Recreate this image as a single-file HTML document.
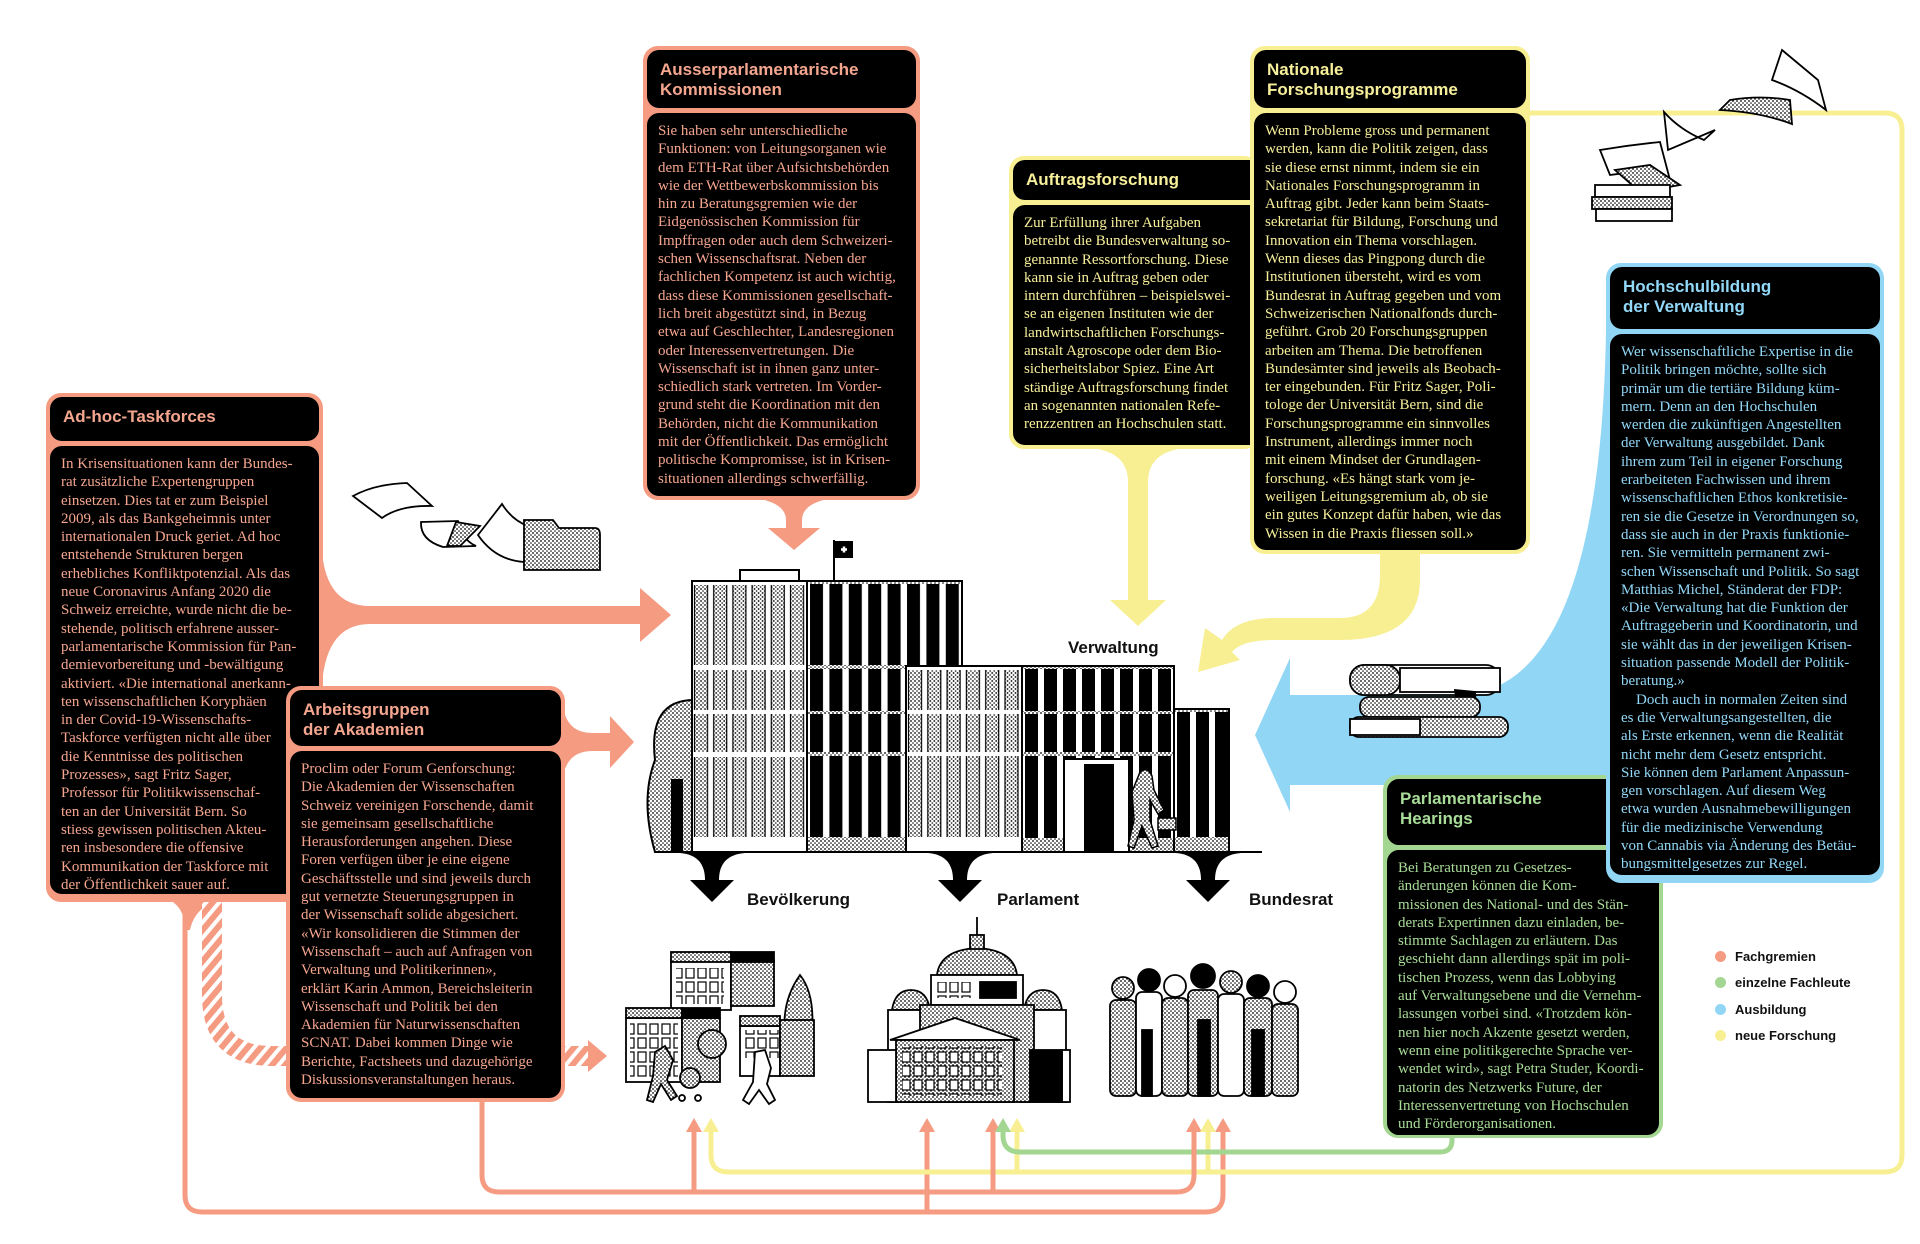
<!DOCTYPE html>
<html><head><meta charset="utf-8">
<style>
*{margin:0;padding:0;box-sizing:border-box}
body{width:1920px;height:1244px;background:#fff;position:relative;overflow:hidden;font-family:"Liberation Serif",serif}
svg.bg{position:absolute;left:0;top:0}
.box{position:absolute;border-radius:15px;padding:4px}
.hd{background:#000;border-radius:12px;font-family:"Liberation Sans",sans-serif;font-weight:bold;font-size:17px;line-height:20px;padding:10px 13px 0 13px}
.bd{background:#000;border-radius:12px;margin-top:5px;font-size:15px;line-height:18.3px;padding:9px 11px 0 11px;white-space:nowrap;overflow:hidden}
.s{background:#f59b82}.s .hd,.s .bd{color:#f5a68f}
.y{background:#f7ef92}.y .hd,.y .bd{color:#f7ef9a}
.b{background:#92d6f6}.b .hd,.b .bd{color:#92d8f8}
.g{background:#a3d690}.g .hd,.g .bd{color:#a9dc98}
.lbl{position:absolute;font-family:"Liberation Sans",sans-serif;font-weight:bold;font-size:17px;color:#111}
.leg{position:absolute;left:1715px;font-family:"Liberation Sans",sans-serif;font-weight:bold;font-size:13px;color:#111}
.leg i{display:inline-block;width:11px;height:11px;border-radius:50%;margin-right:9px;vertical-align:-1px}
</style></head><body>
<svg class="bg" width="1920" height="1244" viewBox="0 0 1920 1244">
<defs>
<pattern id="st" width="4" height="4" patternUnits="userSpaceOnUse"><rect width="4" height="4" fill="#fff"/><circle cx="1" cy="1" r="0.9" fill="#000"/><circle cx="3" cy="3" r="0.8" fill="#000"/></pattern>
<pattern id="hatch" width="10" height="10" patternUnits="userSpaceOnUse" patternTransform="rotate(40)"><rect width="10" height="10" fill="#fff"/><rect width="6" height="10" fill="#f59b82"/></pattern>
<pattern id="wst" x="692" y="0" width="19.2" height="2000" patternUnits="userSpaceOnUse"><rect x="2.5" y="0" width="13" height="2000" fill="url(#st)" stroke="#000" stroke-width="1.2"/></pattern>
<pattern id="wst3" x="906" y="0" width="19.3" height="2000" patternUnits="userSpaceOnUse"><rect x="2.5" y="0" width="13" height="2000" fill="url(#st)" stroke="#000" stroke-width="1.2"/></pattern>
<pattern id="wbk" x="807" y="0" width="19.4" height="2000" patternUnits="userSpaceOnUse"><rect x="3" y="0" width="13" height="2000" fill="#000"/></pattern>
<pattern id="wbk4" x="1022" y="0" width="19" height="2000" patternUnits="userSpaceOnUse"><rect x="3" y="0" width="13" height="2000" fill="#000"/></pattern>
<pattern id="hw" width="12" height="14" patternUnits="userSpaceOnUse"><rect x="2" y="2" width="8" height="10" fill="#fff" stroke="#000" stroke-width="1.2"/></pattern>
</defs>
<g fill="#f59b82">
<path d="M323,560 Q330,606 370,606 L640,606 L640,588 L671,615 L640,642 L640,624 L370,624 Q330,624 323,675 Z"/>
<path d="M564,712 Q570,733 592,733 L610,733 L610,716 L634,742 L610,768 L610,751 L592,751 Q570,751 564,772 Z"/>
<path d="M755,498 Q786,503 786,520 L786,528 L768,528 L794,550 L820,528 L802,528 L802,520 Q802,503 833,498 Z"/>
<path d="M165,898 Q185,905 185,930 L190,930 Q195,905 225,898 Z"/>
</g>
<path d="M212,902 L212,995 Q212,1056 272,1056 L588,1056" fill="none" stroke="url(#hatch)" stroke-width="20"/>
<path d="M588,1040 L607,1056 L588,1072 Z" fill="#f59b82"/>
<g fill="none" stroke-width="5" stroke-linecap="round">
<path d="M185,902 L185,1195 Q185,1212 202,1212 L1206,1212 Q1223,1212 1223,1195 L1223,1130 M927,1212 Q927,1200 927,1130" stroke="#f59b82"/>
<path d="M1902,130 L1902,1155 Q1902,1172 1885,1172 L728,1172 Q711,1172 711,1155 L711,1130 M1017,1172 L1017,1130 M1208,1172 L1208,1130 M1529,113 L1885,113 Q1902,113 1902,130" stroke="#f7ef92"/>
<path d="M1452,1138 L1452,1140 Q1452,1152 1440,1152 L1020,1152 Q1003,1152 1003,1135 L1003,1130" stroke="#a3d690"/>
<path d="M482,1100 L482,1175 Q482,1192 499,1192 L1177,1192 Q1194,1192 1194,1175 L1194,1130 M694,1192 L694,1130 M993,1192 L993,1130" stroke="#f59b82"/>
</g>
<g fill="#f59b82"><path d="M686,1132 L694,1118 L702,1132Z M919,1132 L927,1118 L935,1132Z M985,1132 L993,1118 L1001,1132Z M1186,1132 L1194,1118 L1202,1132Z M1215,1132 L1223,1118 L1231,1132Z"/></g>
<g fill="#f7ef92"><path d="M703,1132 L711,1118 L719,1132Z M1009,1132 L1017,1118 L1025,1132Z M1200,1132 L1208,1118 L1216,1132Z"/></g>
<path d="M995,1132 L1003,1118 L1011,1132Z" fill="#a3d690"/>
<g fill="#f7ef92">
<path d="M1098,449 Q1128,455 1128,482 L1128,600 L1110,600 L1138,626 L1166,600 L1148,600 L1148,482 Q1148,455 1178,449 Z"/>
<path d="M1380,554 L1380,575 Q1380,618 1340,618 L1275,618 Q1235,618 1222,640 L1205,628 L1198,672 L1240,660 L1232,652 Q1242,640 1275,640 L1340,640 Q1420,640 1420,580 L1420,554 Z"/>
</g>
<path d="M1290,695 L1460,695 Q1600,690 1606,330 L1640,330 L1640,785 L1290,785 L1290,812 L1255,735 L1290,658 Z" fill="#92d6f6"/>
<g stroke="#000" stroke-width="2">
<path d="M655,852 Q640,800 655,760 Q648,700 694,700 L694,852 Z" fill="url(#st)"/>
<rect x="672" y="780" width="10" height="72" fill="#000"/>
<rect x="740" y="570" width="59" height="11" fill="#fff"/>
<rect x="692" y="581" width="115" height="271" fill="#fff"/>
<rect x="807" y="581" width="155" height="271" fill="url(#st)"/>
<rect x="906" y="666" width="116" height="186" fill="#fff"/>
<rect x="1022" y="666" width="152" height="186" fill="url(#st)"/>
<rect x="1174" y="709" width="55" height="143" fill="url(#st)"/>
</g>
<g>
<rect x="692" y="585" width="115" height="80" fill="url(#wst)"/>
<rect x="692" y="670" width="115" height="40" fill="url(#wst)"/>
<rect x="692" y="714" width="115" height="38" fill="url(#wst)"/>
<rect x="692" y="757" width="115" height="80" fill="url(#wst)"/>
<rect x="808" y="584" width="153" height="81" fill="#fff"/><rect x="808" y="584" width="153" height="81" fill="url(#wbk)"/>
<rect x="808" y="669" width="97" height="42" fill="#fff"/><rect x="808" y="669" width="97" height="42" fill="url(#wbk)"/>
<rect x="808" y="714" width="97" height="38" fill="#fff"/><rect x="808" y="714" width="97" height="38" fill="url(#wbk)"/>
<rect x="808" y="756" width="97" height="81" fill="#fff"/><rect x="808" y="756" width="97" height="81" fill="url(#wbk)"/>
<rect x="906" y="670" width="116" height="40" fill="url(#wst3)"/>
<rect x="906" y="714" width="116" height="38" fill="url(#wst3)"/>
<rect x="906" y="756" width="116" height="81" fill="url(#wst3)"/>
<rect x="1023" y="669" width="150" height="42" fill="#fff"/><rect x="1023" y="669" width="150" height="42" fill="url(#wbk4)"/>
<rect x="1023" y="714" width="150" height="38" fill="#fff"/><rect x="1023" y="714" width="150" height="38" fill="url(#wbk4)"/>
<rect x="1023" y="756" width="150" height="82" fill="#fff"/><rect x="1023" y="756" width="150" height="82" fill="url(#wbk4)"/>
<rect x="1175" y="712" width="53" height="125" fill="#fff"/><rect x="1175" y="712" width="53" height="125" fill="url(#wbk4)"/>
<rect x="1064" y="759" width="65" height="93" fill="#fff" stroke="#000" stroke-width="2"/>
<rect x="1084" y="764" width="30" height="88" fill="#000"/>
<path d="M1140,772 q8,-6 12,4 l2,14 l10,20 l-6,4 l-8,-14 l0,20 l8,26 l-6,2 l-10,-22 l-8,22 l-6,-2 l6,-26 l-2,-28 z" fill="url(#st)" stroke="#000" stroke-width="1.5"/>
<rect x="1158" y="818" width="18" height="12" fill="url(#st)" stroke="#000" stroke-width="1.5"/>
<line x1="834" y1="540" x2="834" y2="581" stroke="#000" stroke-width="2"/>
<rect x="835" y="541" width="18" height="17" fill="#000"/>
<path d="M841,549.5 h6 M844,546.5 v6" stroke="#fff" stroke-width="2.5"/>
</g>
<line x1="661" y1="852" x2="1262" y2="852" stroke="#000" stroke-width="2"/>
<g fill="#000">
<path d="M680,853 Q705,855 705,880 L690,880 L712,902 L734,880 L719,880 Q719,855 745,853 Z"/>
<path d="M928,853 Q953,855 953,880 L938,880 L960,902 L982,880 L967,880 Q967,855 993,853 Z"/>
<path d="M1176,853 Q1201,855 1201,880 L1186,880 L1208,902 L1230,880 L1215,880 Q1215,855 1241,853 Z"/>
</g>
<g stroke="#000" stroke-width="1.8">
<path d="M790,1060 Q775,1010 800,975 Q820,1000 808,1060 Z" fill="url(#st)"/>
<path d="M671,960 L731,960 L731,1010 L671,1010 Z" fill="#fff"/><rect x="671" y="952" width="60" height="10" fill="url(#st)"/>
<rect x="731" y="960" width="43" height="46" fill="url(#st)"/><rect x="731" y="952" width="43" height="10" fill="#000"/>
<rect x="676" y="968" width="48" height="36" fill="url(#hw)" stroke="none"/>
<rect x="626" y="1018" width="56" height="64" fill="#fff"/><rect x="626" y="1008" width="56" height="10" fill="url(#st)"/>
<rect x="630" y="1022" width="48" height="56" fill="url(#hw)" stroke="none"/>
<rect x="682" y="1018" width="38" height="64" fill="url(#st)"/><rect x="682" y="1008" width="38" height="10" fill="#000"/>
<rect x="740" y="1026" width="40" height="50" fill="#fff"/><rect x="740" y="1016" width="40" height="10" fill="url(#st)"/>
<rect x="744" y="1030" width="36" height="28" fill="url(#hw)" stroke="none"/>
<rect x="780" y="1020" width="34" height="56" fill="url(#st)"/>
<circle cx="712" cy="1044" r="14" fill="url(#st)"/>
<path d="M655,1052 l10,-6 l8,14 l-6,20 l10,16 l-6,4 l-10,-16 l-8,18 l-6,-2 l6,-24 z" fill="url(#st)"/>
<circle cx="690" cy="1078" r="10" fill="url(#st)"/>
<circle cx="682" cy="1098" r="3" fill="#fff"/><circle cx="698" cy="1098" r="3" fill="#fff"/>
<path d="M755,1052 l10,-2 l6,18 l-4,16 l8,16 l-6,4 l-10,-14 l-10,14 l-6,-4 l10,-18 z" fill="#fff"/>
</g>
<g stroke="#000" stroke-width="1.8">
<line x1="977" y1="917" x2="977" y2="935"/>
<path d="M937,975 Q940,950 977,948 Q1014,950 1017,975 Z" fill="url(#st)"/>
<rect x="970" y="935" width="14" height="14" fill="url(#st)"/>
<rect x="931" y="975" width="92" height="30" fill="#fff"/>
<rect x="936" y="982" width="36" height="16" fill="url(#hw)" stroke="none"/>
<rect x="980" y="982" width="36" height="16" fill="#000"/>
<path d="M892,1010 Q895,990 911,990 Q927,990 930,1010 Z M1024,1010 Q1027,990 1043,990 Q1059,990 1062,1010 Z" fill="url(#st)"/>
<rect x="888" y="1010" width="46" height="92" fill="#fff"/>
<rect x="1020" y="1010" width="46" height="92" fill="#fff"/>
<rect x="920" y="1005" width="114" height="97" fill="url(#st)"/>
<path d="M890,1040 L955,1018 L1020,1040 Z" fill="#fff"/>
<rect x="896" y="1040" width="118" height="62" fill="url(#st)"/>
<rect x="902" y="1046" width="100" height="50" fill="url(#hw)" stroke="none"/>
<rect x="868" y="1050" width="28" height="52" fill="#fff"/><rect x="1062" y="1050" width="8" height="52" fill="#fff"/>
<rect x="1030" y="1050" width="32" height="52" fill="#000"/>
</g>
<g stroke="#000" stroke-width="1.8">
<g fill="url(#st)">
<rect x="1110" y="1000" width="26" height="96" rx="6"/><rect x="1136" y="992" width="26" height="104" rx="6" fill="#fff"/>
<rect x="1162" y="998" width="26" height="98" rx="6"/><rect x="1188" y="990" width="30" height="106" rx="6"/>
<rect x="1218" y="994" width="26" height="102" rx="6" fill="#fff"/><rect x="1244" y="998" width="28" height="98" rx="6"/>
<rect x="1272" y="1004" width="26" height="92" rx="6"/>
</g>
<rect x="1198" y="1020" width="12" height="76" fill="#000"/><rect x="1252" y="1030" width="12" height="66" fill="#000"/><rect x="1142" y="1030" width="10" height="66" fill="#000"/>
<circle cx="1123" cy="988" r="11" fill="url(#st)"/><circle cx="1149" cy="980" r="11" fill="#000"/>
<circle cx="1175" cy="986" r="11" fill="#fff"/><circle cx="1203" cy="976" r="12" fill="#000"/>
<circle cx="1231" cy="982" r="11" fill="url(#st)"/><circle cx="1258" cy="986" r="11" fill="#000"/>
<circle cx="1285" cy="992" r="11" fill="#fff"/>
</g>
<g stroke="#000" stroke-width="1.8" fill="#fff">
<path d="M353,496 Q375,484 407,483 L432,506 Q400,505 382,518 Z"/>
<path d="M421,522 L458,521 Q462,540 476,546 L443,547 Q420,540 421,522 Z"/>
<path d="M456,522 L480,526 L460,546 L447,546 Z" fill="url(#st)"/>
<path d="M478,535 L502,504 Q512,520 528,526 L524,562 Q495,560 478,535 Z"/>
<path d="M524,520 L553,520 L559,528 L595,528 Q600,528 600,535 L600,570 L524,570 Z" fill="url(#st)"/>
<path d="M1782,50 L1818,80 L1826,110 Q1800,90 1772,80 Z"/>
<path d="M1730,100 Q1760,95 1790,100 L1792,124 Q1760,112 1720,110 Z" fill="url(#st)"/>
<path d="M1664,112 Q1680,130 1704,140 L1715,130 L1668,150 Z"/>
<path d="M1600,150 Q1630,145 1660,142 L1670,180 Q1640,170 1610,175 Z"/>
<path d="M1615,170 L1650,165 L1680,185 L1640,192 Z" fill="url(#st)"/>
<rect x="1595" y="185" width="75" height="12"/><rect x="1592" y="197" width="80" height="12" fill="url(#st)"/><rect x="1596" y="209" width="76" height="12"/>
<rect x="1350" y="665" width="150" height="30" rx="14"/>
<rect x="1350" y="665" width="50" height="30" rx="14" fill="url(#st)"/>
<rect x="1400" y="668" width="100" height="24" fill="#fff"/>
<path d="M1455,690 L1458,712 L1467,702 L1476,712 L1475,692 Z" fill="#000"/>
<rect x="1360" y="697" width="120" height="20" rx="9" fill="url(#st)"/>
<rect x="1350" y="717" width="158" height="20" rx="9" fill="url(#st)"/>
<rect x="1350" y="719" width="70" height="16" fill="#fff"/>
</g>
</svg>

<div class="box s" style="left:643px;top:46px;width:277px;height:454px">
<div class="hd" style="height:58px">Ausserparlamentarische<br>Kommissionen</div>
<div class="bd" style="height:383px">Sie haben sehr unterschiedliche<br>Funktionen: von Leitungsorganen wie<br>dem ETH-Rat über Aufsichtsbehörden<br>wie der Wettbewerbskommission bis<br>hin zu Beratungsgremien wie der<br>Eidgenössischen Kommission für<br>Impffragen oder auch dem Schweizeri-<br>schen Wissenschaftsrat. Neben der<br>fachlichen Kompetenz ist auch wichtig,<br>dass diese Kommissionen gesellschaft-<br>lich breit abgestützt sind, in Bezug<br>etwa auf Geschlechter, Landesregionen<br>oder Interessenvertretungen. Die<br>Wissenschaft ist in ihnen ganz unter-<br>schiedlich stark vertreten. Im Vorder-<br>grund steht die Koordination mit den<br>Behörden, nicht die Kommunikation<br>mit der Öffentlichkeit. Das ermöglicht<br>politische Kompromisse, ist in Krisen-<br>situationen allerdings schwerfällig.</div>
</div>

<div class="box s" style="left:46px;top:393px;width:277px;height:509px">
<div class="hd" style="height:44px">Ad-hoc-Taskforces</div>
<div class="bd" style="height:448px">In Krisensituationen kann der Bundes-<br>rat zusätzliche Expertengruppen<br>einsetzen. Dies tat er zum Beispiel<br>2009, als das Bankgeheimnis unter<br>internationalen Druck geriet. Ad hoc<br>entstehende Strukturen bergen<br>erhebliches Konfliktpotenzial. Als das<br>neue Coronavirus Anfang 2020 die<br>Schweiz erreichte, wurde nicht die be-<br>stehende, politisch erfahrene ausser-<br>parlamentarische Kommission für Pan-<br>demievorbereitung und -bewältigung<br>aktiviert. «Die international anerkann-<br>ten wissenschaftlichen Koryphäen<br>in der Covid-19-Wissenschafts-<br>Taskforce verfügten nicht alle über<br>die Kenntnisse des politischen<br>Prozesses», sagt Fritz Sager,<br>Professor für Politikwissenschaf-<br>ten an der Universität Bern. So<br>stiess gewissen politischen Akteu-<br>ren insbesondere die offensive<br>Kommunikation der Taskforce mit<br>der Öffentlichkeit sauer auf.</div>
</div>

<div class="box s" style="left:286px;top:686px;width:279px;height:416px">
<div class="hd" style="height:56px">Arbeitsgruppen<br>der Akademien</div>
<div class="bd" style="height:347px">Proclim oder Forum Genforschung:<br>Die Akademien der Wissenschaften<br>Schweiz vereinigen Forschende, damit<br>sie gemeinsam gesellschaftliche<br>Herausforderungen angehen. Diese<br>Foren verfügen über je eine eigene<br>Geschäftsstelle und sind jeweils durch<br>gut vernetzte Steuerungsgruppen in<br>der Wissenschaft solide abgesichert.<br>«Wir konsolidieren die Stimmen der<br>Wissenschaft – auch auf Anfragen von<br>Verwaltung und Politikerinnen»,<br>erklärt Karin Ammon, Bereichsleiterin<br>Wissenschaft und Politik bei den<br>Akademien für Naturwissenschaften<br>SCNAT. Dabei kommen Dinge wie<br>Berichte, Factsheets und dazugehörige<br>Diskussionsveranstaltungen heraus.</div>
</div>

<div class="box y" style="left:1009px;top:156px;width:250px;height:293px;padding-right:0">
<div class="hd" style="height:40px;border-radius:12px 0 0 12px">Auftragsforschung</div>
<div class="bd" style="height:240px;border-radius:12px 0 0 12px">Zur Erfüllung ihrer Aufgaben<br>betreibt die Bundesverwaltung so-<br>genannte Ressortforschung. Diese<br>kann sie in Auftrag geben oder<br>intern durchführen – beispielswei-<br>se an eigenen Instituten wie der<br>landwirtschaftlichen Forschungs-<br>anstalt Agroscope oder dem Bio-<br>sicherheitslabor Spiez. Eine Art<br>ständige Auftragsforschung findet<br>an sogenannten nationalen Refe-<br>renzzentren an Hochschulen statt.</div>
</div>

<div class="box y" style="left:1250px;top:46px;width:280px;height:508px">
<div class="hd" style="height:58px">Nationale<br>Forschungsprogramme</div>
<div class="bd" style="height:437px">Wenn Probleme gross und permanent<br>werden, kann die Politik zeigen, dass<br>sie diese ernst nimmt, indem sie ein<br>Nationales Forschungsprogramm in<br>Auftrag gibt. Jeder kann beim Staats-<br>sekretariat für Bildung, Forschung und<br>Innovation ein Thema vorschlagen.<br>Wenn dieses das Pingpong durch die<br>Institutionen übersteht, wird es vom<br>Bundesrat in Auftrag gegeben und vom<br>Schweizerischen Nationalfonds durch-<br>geführt. Grob 20 Forschungsgruppen<br>arbeiten am Thema. Die betroffenen<br>Bundesämter sind jeweils als Beobach-<br>ter eingebunden. Für Fritz Sager, Poli-<br>tologe der Universität Bern, sind die<br>Forschungsprogramme ein sinnvolles<br>Instrument, allerdings immer noch<br>mit einem Mindset der Grundlagen-<br>forschung. «Es hängt stark vom je-<br>weiligen Leitungsgremium ab, ob sie<br>ein gutes Konzept dafür haben, wie das<br>Wissen in die Praxis fliessen soll.»</div>
</div>

<div class="box g" style="left:1383px;top:775px;width:280px;height:363px">
<div class="hd" style="height:66px">Parlamentarische<br>Hearings</div>
<div class="bd" style="height:285px">Bei Beratungen zu Gesetzes-<br>änderungen können die Kom-<br>missionen des National- und des Stän-<br>derats Expertinnen dazu einladen, be-<br>stimmte Sachlagen zu erläutern. Das<br>geschieht dann allerdings spät im poli-<br>tischen Prozess, wenn das Lobbying<br>auf Verwaltungsebene und die Vernehm-<br>lassungen vorbei sind. «Trotzdem kön-<br>nen hier noch Akzente gesetzt werden,<br>wenn eine politikgerechte Sprache ver-<br>wendet wird», sagt Petra Studer, Koordi-<br>natorin des Netzwerks Future, der<br>Interessenvertretung von Hochschulen<br>und Förderorganisationen.</div>
</div>

<div class="box b" style="left:1606px;top:263px;width:278px;height:620px">
<div class="hd" style="height:62px">Hochschulbildung<br>der Verwaltung</div>
<div class="bd" style="height:541px">Wer wissenschaftliche Expertise in die<br>Politik bringen möchte, sollte sich<br>primär um die tertiäre Bildung küm-<br>mern. Denn an den Hochschulen<br>werden die zukünftigen Angestellten<br>der Verwaltung ausgebildet. Dank<br>ihrem zum Teil in eigener Forschung<br>erarbeiteten Fachwissen und ihrem<br>wissenschaftlichen Ethos konkretisie-<br>ren sie die Gesetze in Verordnungen so,<br>dass sie auch in der Praxis funktionie-<br>ren. Sie vermitteln permanent zwi-<br>schen Wissenschaft und Politik. So sagt<br>Matthias Michel, Ständerat der FDP:<br>«Die Verwaltung hat die Funktion der<br>Auftraggeberin und Koordinatorin, und<br>sie wählt das in der jeweiligen Krisen-<br>situation passende Modell der Politik-<br>beratung.»<br>&nbsp;&nbsp;&nbsp;&nbsp;Doch auch in normalen Zeiten sind<br>es die Verwaltungsangestellten, die<br>als Erste erkennen, wenn die Realität<br>nicht mehr dem Gesetz entspricht.<br>Sie können dem Parlament Anpassun-<br>gen vorschlagen. Auf diesem Weg<br>etwa wurden Ausnahmebewilligungen<br>für die medizinische Verwendung<br>von Cannabis via Änderung des Betäu-<br>bungsmittelgesetzes zur Regel.</div>
</div>

<div class="lbl" style="left:1068px;top:638px">Verwaltung</div>
<div class="lbl" style="left:747px;top:890px">Bevölkerung</div>
<div class="lbl" style="left:997px;top:890px">Parlament</div>
<div class="lbl" style="left:1249px;top:890px">Bundesrat</div>

<div class="leg" style="top:949px"><i style="background:#f59b82"></i>Fachgremien</div>
<div class="leg" style="top:975px"><i style="background:#a3d690"></i>einzelne Fachleute</div>
<div class="leg" style="top:1002px"><i style="background:#92d6f6"></i>Ausbildung</div>
<div class="leg" style="top:1028px"><i style="background:#f7ef92"></i>neue Forschung</div>
</body></html>
